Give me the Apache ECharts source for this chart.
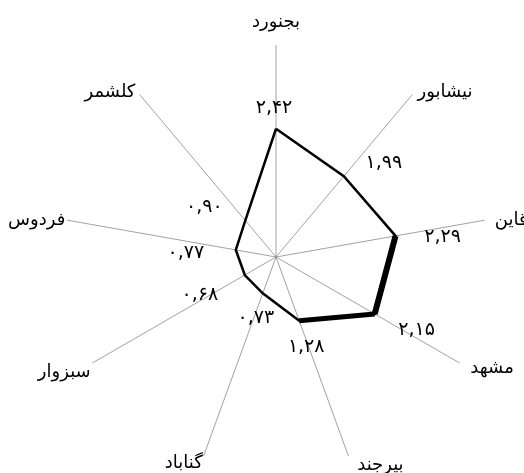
<!DOCTYPE html>
<html>
<head>
<meta charset="utf-8">
<script src="https://cdn.jsdelivr.net/npm/echarts@6/dist/echarts.min.js"></script>
<style>html,body{margin:0;padding:0;background:#fff}#c{width:524px;height:473px}</style>
</head>
<body>
<div id="c"></div>
<script>
const categories = ['بجنورد', 'نیشابور', 'قاین', 'مشهد', 'بیرجند', 'گناباد', 'سبزوار', 'فردوس', 'کلشمر'];
const values = [2.42, 1.99, 2.29, 2.15, 1.28, 0.73, 0.68, 0.77, 0.90];
const radiusMax = 4;
// thick highlighted segments (category names)
const thickSegA = ['قاین', 'مشهد'];
const thickSegB = ['مشهد', 'بیرجند'];
// label offsets (style only)
const labelOffsets = [[-2, -21], [40, -13], [47, 1], [42, 16], [7, 26], [-7, 25], [-45, 20], [-50, 3], [-41, -13]];
// category label fine placement (style only): [lineHeight, padding]
const catLabelStyles = [
  [42, [0, 0, 0, 0]],
  [1, [0, 0, 0, 4]],
  [20, [0, 0, 0, 8]],
  [8, [0, 0, 0, 9]],
  [14, [0, 0, 0, 8]],
  [10, [0, 0, 0, 0]],
  [16, [0, 0, 0, 0]],
  [20, [0, 0, 0, 0]],
  [1, [0, 3, 0, 0]]
];

const faDigits = '۰۱۲۳۴۵۶۷۸۹';
function toFa(v) { return v.toFixed(2).replace('.', ',').replace(/\d/g, d => faDigits[+d]); }
const FONT = 'DejaVu Sans';
const bandHalf = 180 / categories.length;

const angleData = categories.map((c, i) => ({
  value: c,
  textStyle: { lineHeight: catLabelStyles[i][0], padding: catLabelStyles[i][1] }
}));

const mainData = categories.map((c, i) => ({
  value: [values[i], c],
  label: { show: true, position: 'inside', offset: labelOffsets[i], formatter: toFa(values[i]) }
}));
mainData.push({ value: [values[0], categories[0]], label: { show: false } });

function seg(names) { return names.map(n => [values[categories.indexOf(n)], n]); }

const lineCommon = { type: 'line', coordinateSystem: 'polar', polarIndex: 1, clip: false, symbol: 'none' };

const chart = echarts.init(document.getElementById('c'), null, { renderer: 'canvas' });
chart.setOption({
  animation: false,
  backgroundColor: '#fff',
  polar: [
    { center: [276, 257], radius: 212 },
    { center: [276, 257], radius: 212 }
  ],
  angleAxis: [
    {
      polarIndex: 0,
      type: 'category', data: angleData, startAngle: 90, clockwise: true, boundaryGap: false,
      axisLine: { show: false }, axisTick: { show: false },
      splitLine: { show: true, lineStyle: { color: '#8a8a8a', width: 0.8 } },
      axisLabel: { margin: 2, color: '#000', fontSize: 18, fontFamily: FONT }
    },
    {
      polarIndex: 1,
      type: 'category', data: categories, startAngle: 90 + bandHalf, clockwise: true, boundaryGap: true,
      show: false
    }
  ],
  radiusAxis: [
    { polarIndex: 0, type: 'value', min: 0, max: radiusMax, show: false },
    { polarIndex: 1, type: 'value', min: 0, max: radiusMax, show: false }
  ],
  series: [
    Object.assign({}, lineCommon, {
      data: mainData,
      symbol: 'circle', symbolSize: 1, itemStyle: { color: 'rgba(0,0,0,0)' },
      lineStyle: { color: '#000', width: 2.5, join: 'miter' },
      label: { color: '#000', fontSize: 19, fontFamily: FONT, align: 'center', verticalAlign: 'middle' },
      z: 3
    }),
    Object.assign({}, lineCommon, {
      data: seg(thickSegA),
      lineStyle: { color: '#000', width: 6, join: 'miter' }, z: 4
    }),
    Object.assign({}, lineCommon, {
      data: seg(thickSegB),
      lineStyle: { color: '#000', width: 5, join: 'miter' }, z: 4
    })
  ]
});
</script>
</body>
</html>
